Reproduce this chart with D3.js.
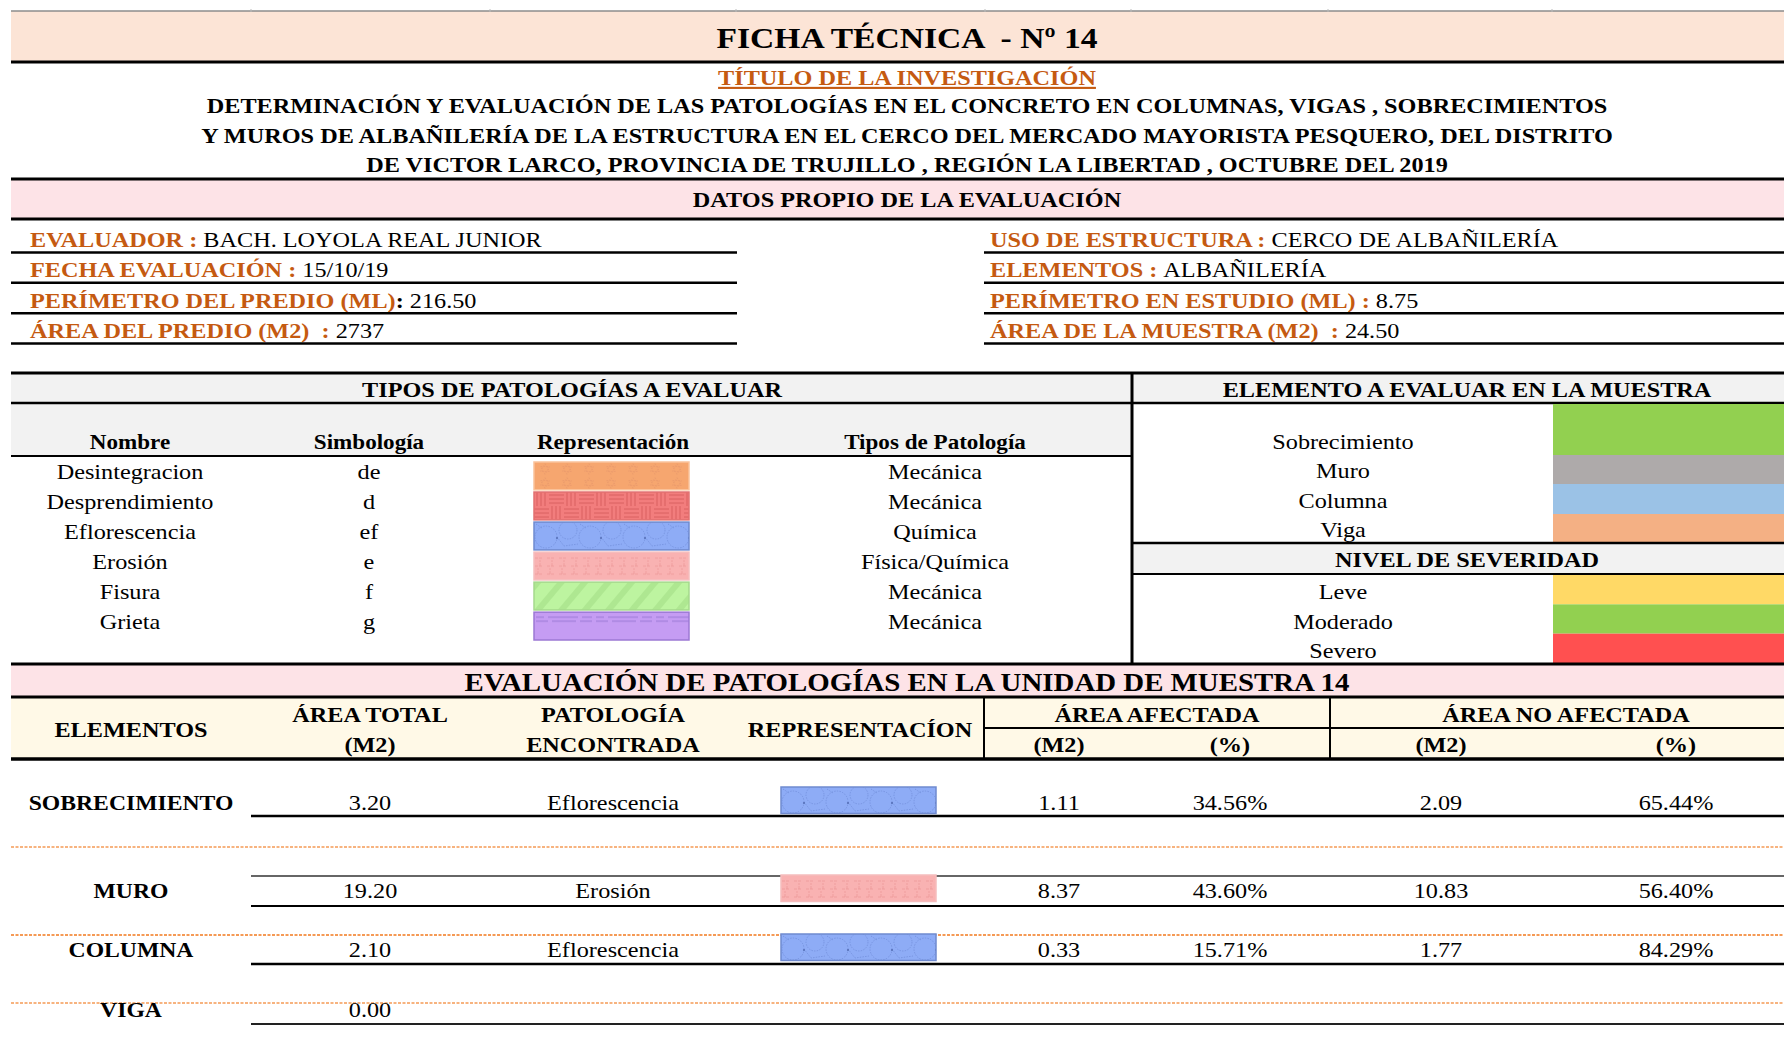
<!DOCTYPE html>
<html><head><meta charset="utf-8">
<script src="https://cdn.jsdelivr.net/npm/d3@7"></script>
<style>html,body{margin:0;padding:0;background:#fff;} svg{display:block;} text{white-space:pre;}</style>
</head><body><div id="chart"></div>
<script>
// ---------------- DATA ----------------
const titleText = "FICHA TÉCNICA  - Nº 14";
const researchLabel = "TÍTULO DE LA INVESTIGACIÓN";
const researchLines = [
  "DETERMINACIÓN Y EVALUACIÓN DE LAS PATOLOGÍAS EN EL CONCRETO EN COLUMNAS, VIGAS , SOBRECIMIENTOS",
  "Y MUROS DE ALBAÑILERÍA DE LA ESTRUCTURA EN EL CERCO DEL MERCADO MAYORISTA PESQUERO, DEL DISTRITO",
  "DE VICTOR LARCO, PROVINCIA DE TRUJILLO , REGIÓN LA LIBERTAD , OCTUBRE DEL 2019"
];
const datosHeader = "DATOS PROPIO DE LA EVALUACIÓN";
const infoLeftLabels = ["EVALUADOR : ", "FECHA EVALUACIÓN : ", "PERÍMETRO DEL PREDIO (ML)", "ÁREA DEL PREDIO (M2)  : "];
const infoLeftSeps   = ["", "", ": ", ""];
const infoLeftValues = ["BACH. LOYOLA REAL JUNIOR", "15/10/19", "216.50", "2737"];
const infoRightLabels = ["USO DE ESTRUCTURA : ", "ELEMENTOS : ", "PERÍMETRO EN ESTUDIO (ML) : ", "ÁREA DE LA MUESTRA (M2)  : "];
const infoRightValues = ["CERCO DE ALBAÑILERÍA", "ALBAÑILERÍA", "8.75", "24.50"];

const tiposHeader = "TIPOS DE PATOLOGÍAS A EVALUAR";
const tiposColumns = ["Nombre", "Simbología", "Representación", "Tipos de Patología"];
const pathNames   = ["Desintegracion", "Desprendimiento", "Eflorescencia", "Erosión", "Fisura", "Grieta"];
const pathSymbols = ["de", "d", "ef", "e", "f", "g"];
const pathTypes   = ["Mecánica", "Mecánica", "Química", "Física/Química", "Mecánica", "Mecánica"];
const pathKeys    = ["des", "desp", "eflo", "ero", "fis", "gri"];

const elementHeader = "ELEMENTO A EVALUAR EN LA MUESTRA";
const elementNames  = ["Sobrecimiento", "Muro", "Columna", "Viga"];
const elementColors = ["#92D050", "#AEAAAA", "#9BC2E6", "#F4B084"];
const severityHeader = "NIVEL DE SEVERIDAD";
const severityNames  = ["Leve", "Moderado", "Severo"];
const severityColors = ["#FFD966", "#92D050", "#FF5050"];

const evalHeader = "EVALUACIÓN DE PATOLOGÍAS EN LA UNIDAD DE MUESTRA 14";
const evalElements      = ["SOBRECIMIENTO", "MURO", "COLUMNA", "VIGA"];
const evalAreaTotal     = [3.20, 19.20, 2.10, 0.00];
const evalPathology     = ["Eflorescencia", "Erosión", "Eflorescencia", ""];
const evalAffectedM2    = [1.11, 8.37, 0.33, null];
const evalAffectedPct   = [34.56, 43.60, 15.71, null];
const evalUnaffectedM2  = [2.09, 10.83, 1.77, null];
const evalUnaffectedPct = [65.44, 56.40, 84.29, null];

// ---------------- LAYOUT ----------------
const W = 1784, H = 1048, SX = 1.155, L = 11;
const FONT = '"Liberation Serif","Times New Roman",Times,serif';
const ORANGE = "#C55A11";
const svg = d3.select("#chart").append("svg").attr("width", W).attr("height", H).attr("font-family", FONT);
svg.append("rect").attr("width", W).attr("height", H).attr("fill", "#fff");

// patterns
const defs = svg.append("defs");
function pat(id, w, h, fill, draw, transform) {
  const p = defs.append("pattern").attr("id", id).attr("patternUnits", "userSpaceOnUse").attr("width", w).attr("height", h);
  if (transform) p.attr("patternTransform", transform);
  p.append("rect").attr("width", w).attr("height", h).attr("fill", fill);
  draw(p);
}
pat("des", 22, 14, "#F6A66F", p => {
  p.append("path").attr("d", "M11,1.5 L15.5,9.5 L6.5,9.5 Z M11,12.5 L6.5,4.5 L15.5,4.5 Z").attr("fill", "none").attr("stroke", "#E8976A").attr("stroke-width", 0.6).attr("stroke-dasharray", "2,1");
});
pat("desp", 30, 28, "#F27D7D", p => {
  const g = p.append("g").attr("stroke", "#D65B5B").attr("stroke-width", 0.9);
  [3, 7, 11].forEach(v => { g.append("line").attr("x1", v).attr("x2", v).attr("y1", 0).attr("y2", 14); g.append("line").attr("x1", 15).attr("x2", 30).attr("y1", v).attr("y2", v);
    g.append("line").attr("x1", 15 + v).attr("x2", 15 + v).attr("y1", 14).attr("y2", 28); g.append("line").attr("x1", 0).attr("x2", 15).attr("y1", 14 + v).attr("y2", 14 + v); });
});
pat("eflo", 44, 28, "#8EACF6", p => {
  const g = p.append("g").attr("fill", "none").attr("stroke", "#6E8BD8").attr("stroke-width", 0.7).attr("stroke-dasharray", "1.5,1.2");
  g.append("circle").attr("cx", 12).attr("cy", 15).attr("r", 11);
  g.append("circle").attr("cx", 34).attr("cy", 8).attr("r", 9);
  g.append("path").attr("d", "M23,15 L30,24 L44,22 M2,2 L8,6");
  p.append("circle").attr("cx", 23).attr("cy", 16).attr("r", 1.1).attr("fill", "#5670B8");
});
pat("ero", 12, 27, "#F9B2B2", p => {
  p.append("path").attr("d", "M1,6 h7 M1,14 h7 M6,14 v-6 M1,22 h7 M4,22 v-6").attr("fill", "none").attr("stroke", "#EE9898").attr("stroke-width", 0.8).attr("stroke-dasharray", "3,1");
});
pat("fis", 18, 10, "#BDF4A0", p => {
  const g = p.append("g").attr("stroke", "#7EBE62").attr("stroke-width", 0.5);
  [1, 3, 5].forEach(v => g.append("line").attr("x1", v).attr("x2", v).attr("y1", 0).attr("y2", 10));
}, "rotate(40)");
pat("gri", 60, 27, "#C59CF3", p => {
  p.append("path").attr("d", "M2,5 h8 M14,5 h30 M48,5 h10 M2,9 h12 M18,9 h24 M46,9 h12").attr("fill", "none").attr("stroke", "#9676D2").attr("stroke-width", 0.9);
});
const patBorder = {des: "#FAC29A", desp: "#E27070", eflo: "#6F8ACF", ero: "#F5BDBD", fis: "#A5D98C", gri: "#9C78D4"};
const keyOf = d3.scaleOrdinal().domain(pathNames).range(pathKeys);

function swatch(x, y, w, h, key) {
  const g = svg.append("g").attr("transform", `translate(${x},${y})`);
  g.append("rect").attr("width", w).attr("height", h).attr("fill", `url(#${key})`).attr("stroke", patBorder[key]).attr("stroke-width", 1.5);
}
function T(x, y, s, o = {}) {
  return svg.append("text").attr("transform", `translate(${x},${y}) scale(${o.sx || SX},1)`)
    .attr("text-anchor", o.anchor || "middle").attr("font-size", o.size || 21)
    .attr("font-weight", o.bold ? "bold" : "normal").attr("fill", o.color || "#000").text(s);
}
function band(x, y, w, h, fill) { svg.append("rect").attr("x", x).attr("y", y).attr("width", w).attr("height", h).attr("fill", fill); }
function hl(y, x1, x2, w, c = "#000", dash) {
  const l = svg.append("line").attr("x1", x1).attr("x2", x2).attr("y1", y).attr("y2", y).attr("stroke", c).attr("stroke-width", w);
  if (dash) l.attr("stroke-dasharray", dash);
}
function vl(x, y1, y2, w, c = "#000") { svg.append("line").attr("x1", x).attr("x2", x).attr("y1", y1).attr("y2", y2).attr("stroke", c).attr("stroke-width", w); }

// ---------------- BACKGROUNDS ----------------
band(L, 11, W - L, 51, "#FCE4D6");
band(L, 179, W - L, 40, "#FDE3E7");
band(L, 373, W - L, 30, "#F2F2F2");
band(L, 403, 1132 - L, 53, "#F2F2F2");
band(1132, 543, W - 1132, 31, "#F2F2F2");
band(L, 664, W - L, 33, "#FDE3E7");
band(L, 697, W - L, 62, "#FFF9E7");

// ---------------- HEADER ----------------
hl(11, L, W, 1.5, "#8c8c8c");
[251, 490, 736, 985, 1131, 1328, 1552].forEach(x => vl(x, 9, 12, 1, "#bbb"));
hl(62, L, W, 3);
T(907, 48, titleText, {bold: true, size: 30, sx: 1.12});
T(907, 85, researchLabel, {bold: true, size: 21, color: ORANGE}).attr("text-decoration", "underline");
researchLines.forEach((s, i) => T(907, 113 + i * 29.5, s, {bold: true, size: 21}));
hl(179, L, W, 3);
T(907, 207, datosHeader, {bold: true, size: 21});
hl(219, L, W, 3);

const infoY = d3.scalePoint().domain(d3.range(4)).range([247, 338]);
infoLeftLabels.forEach((lab, i) => {
  const t = T(30, infoY(i), "", {anchor: "start", size: 21});
  t.append("tspan").attr("font-weight", "bold").attr("fill", ORANGE).text(lab);
  if (infoLeftSeps[i]) t.append("tspan").attr("font-weight", "bold").text(infoLeftSeps[i]);
  t.append("tspan").text(infoLeftValues[i]);
  hl(infoY(i) + 5.5, L, 737, 2.5);
});
infoRightLabels.forEach((lab, i) => {
  const t = T(990, infoY(i), "", {anchor: "start", size: 21});
  t.append("tspan").attr("font-weight", "bold").attr("fill", ORANGE).text(lab);
  t.append("tspan").text(infoRightValues[i]);
  hl(infoY(i) + 5.5, 984, W, 2.5);
});

// ---------------- TIPOS DE PATOLOGÍAS ----------------
hl(373, L, W, 3);
hl(403, L, W, 2.5);
T(572, 397, tiposHeader, {bold: true, size: 21});
const colTx = d3.scaleOrdinal().domain(tiposColumns).range([130, 369, 613, 935]);
tiposColumns.forEach(c => T(colTx(c), 449, c, {bold: true, size: 20}));
hl(456, L, 1132, 2);
const rowY = d3.scaleBand().domain(pathNames).range([461, 640]).paddingInner(0.04);
pathNames.forEach((n, i) => {
  const y = rowY(n);
  T(colTx("Nombre"), y + 18, n, {size: 21});
  T(colTx("Simbología"), y + 18, pathSymbols[i], {size: 21});
  T(colTx("Tipos de Patología"), y + 18, pathTypes[i], {size: 21});
  swatch(534, y + 1, 155, rowY.bandwidth() - 1, pathKeys[i]);
});

// ---------------- ELEMENTO / SEVERIDAD ----------------
T(1467, 397, elementHeader, {bold: true, size: 21});
const elemEdges = [404, 455, 484, 514, 543];
elementNames.forEach((n, i) => {
  band(1553, elemEdges[i], W - 1553, elemEdges[i + 1] - elemEdges[i], elementColors[i]);
  T(1343, elemEdges[i + 1] - 6, n, {size: 21});
});
hl(543, 1132, W, 2.5);
T(1467, 567, severityHeader, {bold: true, size: 21});
hl(574, 1132, W, 2);
const sevY = d3.scaleBand().domain(severityNames).range([575, 663]);
severityNames.forEach((n, i) => {
  band(1553, sevY(n), W - 1553, sevY.bandwidth(), severityColors[i]);
  T(1343, sevY(n) + sevY.bandwidth() - 5, n, {size: 21});
});
vl(1132, 372, 665, 3);
hl(664, L, W, 3);

// ---------------- EVALUACIÓN ----------------
T(907, 691, evalHeader, {bold: true, size: 25});
hl(697, L, W, 3);
const colX = d3.scaleOrdinal().domain(["elem", "area", "pat", "rep", "am2", "apct", "um2", "upct"])
  .range([131, 370, 613, 860, 1059, 1230, 1441, 1676]);
T(colX("elem"), 737, "ELEMENTOS", {bold: true, size: 21});
T(colX("area"), 722, "ÁREA TOTAL", {bold: true, size: 21});
T(colX("area"), 752, "(M2)", {bold: true, size: 21});
T(colX("pat"), 722, "PATOLOGÍA", {bold: true, size: 21});
T(colX("pat"), 752, "ENCONTRADA", {bold: true, size: 21});
T(colX("rep"), 737, "REPRESENTACÍON", {bold: true, size: 21});
T(1157, 722, "ÁREA AFECTADA", {bold: true, size: 21});
T(1566, 722, "ÁREA NO AFECTADA", {bold: true, size: 21});
[["am2", "(M2)"], ["apct", "(%)"], ["um2", "(M2)"], ["upct", "(%)"]].forEach(([k, s]) => T(colX(k), 752, s, {bold: true, size: 21}));
vl(984, 697, 759, 2);
vl(1330, 697, 759, 2);
hl(728, 984, W, 2);
hl(759, L, W, 3.5);

const f2 = d3.format(".2f");
const evalY = d3.scaleOrdinal().domain(evalElements).range([810, 898, 957, 1017]);
// row separators
hl(816, 251, W, 2.5);
hl(847, L, W, 1.5, "#F59A55", "3,1.5");
hl(876, 251, W, 1.5, "#333");
hl(906, 251, W, 2);
hl(935, L, W, 1.8, "#F59A55", "3,1.5");
hl(964, 251, W, 2.5);
hl(1003, L, W, 1.5, "#F59A55", "3,1.5");
hl(1024, 251, W, 2, "#222");
evalElements.forEach((e, i) => {
  const y = evalY(e);
  T(colX("elem"), y, e, {bold: true, size: 20.5});
  T(colX("area"), y, f2(evalAreaTotal[i]), {size: 21});
  if (evalPathology[i]) {
    T(colX("pat"), y, evalPathology[i], {size: 21});
    swatch(781, y - 23, 155, 26.5, keyOf(evalPathology[i]));
  }
  if (evalAffectedM2[i] != null) {
    T(colX("am2"), y, f2(evalAffectedM2[i]), {size: 21});
    T(colX("apct"), y, f2(evalAffectedPct[i]) + "%", {size: 21});
    T(colX("um2"), y, f2(evalUnaffectedM2[i]), {size: 21});
    T(colX("upct"), y, f2(evalUnaffectedPct[i]) + "%", {size: 21});
  }
});
</script></body></html>
